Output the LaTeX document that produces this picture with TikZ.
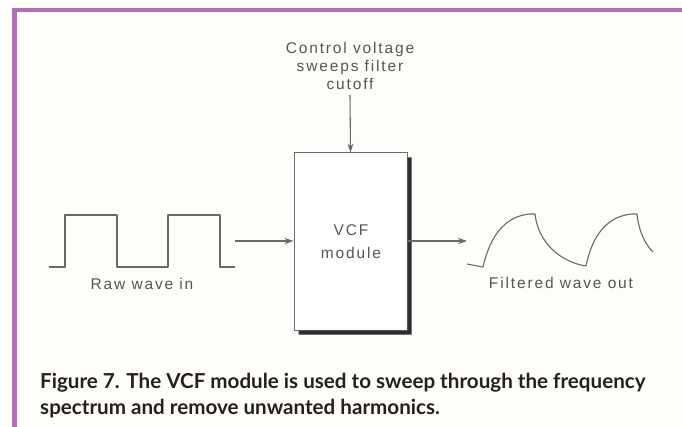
\documentclass[tikz,border=0pt]{standalone}
\usepackage{fontspec}
\setmainfont{Liberation Sans}
\newfontfamily\lblfont[LetterSpace=12]{Liberation Sans}
\newfontfamily\capfont{Lato}
\usetikzlibrary{arrows.meta,calc}
\definecolor{bord}{RGB}{180,110,185}
\definecolor{linec}{RGB}{105,105,105}
\definecolor{txtc}{RGB}{85,85,85}
\definecolor{shad}{RGB}{50,45,45}
\definecolor{capc}{RGB}{40,30,30}
\definecolor{bg}{RGB}{253,253,250}
\tikzset{
  wire/.style={draw=linec, line width=1.1pt},
  conn/.style={draw=linec, line width=1.1pt, -{Stealth[length=9pt,width=6pt,fill=shad]}},
  lbl/.style={font=\lblfont\fontsize{15.5}{18}\selectfont, text=txtc, align=center, inner sep=0pt},
  modbox/.style={draw=linec, line width=1pt, fill=white, minimum width=113pt, minimum height=177pt, inner sep=0pt},
}
\begin{document}
\begin{tikzpicture}[x=1pt,y=-1pt]
\fill[bg] (0,0) rectangle (682,427);
\useasboundingbox (0,0) rectangle (682,427);
% border
\fill[bord] (12,8) rectangle (682,12);
\fill[bord] (12,8) rectangle (17,427);
% module box
\node[modbox] (vcf) at (350.5,241.5) {};
\fill[shad] ($(vcf.north east)+(0,5)$) -- ++(4,0) |- ($(vcf.south west)+(5,4)$) -- ++(0,-4) -| cycle;
\node[lbl, align=center, font=\lblfont\fontsize{15.5}{23}\selectfont] (vcft) at (351,242) {VCF\\module};
% control text
\node[lbl] (ctl) at (350,66) {Control voltage\\sweeps filter\\cutoff};
\coordinate (cstart) at (350,95);
\draw[conn] (cstart) -- (vcf.north);
% raw square wave
\draw[wire, line join=round] (49,267) coordinate (sqa) -- (65,267) -- (65,215) -- (117,215) -- (117,267) -- (168,267) -- (168,215) -- (220,215) -- (220,267) -- (235,267) coordinate (sqb);
\coordinate (inA) at (235,241);
\draw[conn] (inA) -- (inA -| vcf.west);
\node[lbl] (raw) at (142,284) {Raw wave in};
% filtered wave
\coordinate (outB) at (467,241);
\draw[conn] (outB -| vcf.east) -- (outB);
\draw[wire, line join=round] (467,264) -- (483,267)
  .. controls (490,236) and (505,216) .. (530,214) -- (535,214)
  .. controls (538,242) and (560,262) .. (586,266)
  .. controls (592,236) and (607,216) .. (632,214) -- (637,214)
  .. controls (639,232) and (645,244) .. (653,252);
\node[lbl] (filt) at (561,283) {Filtered wave out};
% caption
\node[anchor=base west, inner sep=0pt, font=\capfont\bfseries\fontsize{20.6}{26}\selectfont, text=capc, align=left] (cap) at (40,414) {Figure 7. The VCF module is used to sweep through the frequency\\spectrum and remove unwanted harmonics.};
\end{tikzpicture}
\end{document}
